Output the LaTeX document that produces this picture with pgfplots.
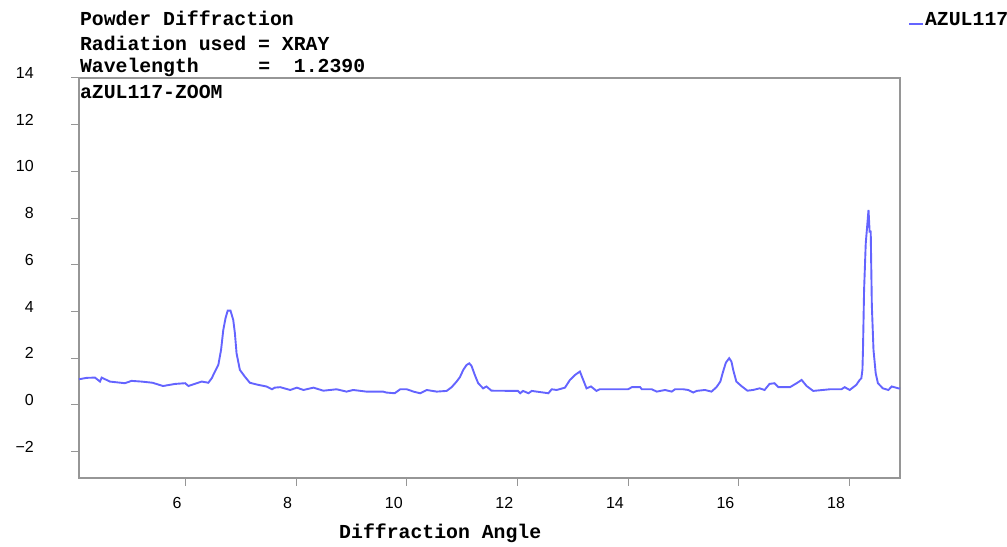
\documentclass[border=0pt]{standalone}
\usepackage{pgfplots}
\pgfplotsset{compat=1.18}
\usepackage{fontspec}
\setmainfont{Liberation Mono}
\newfontfamily\ticksf{Liberation Sans}
\definecolor{framegray}{RGB}{150,150,150}
\definecolor{xrdblue}{RGB}{100,100,255}

\pgfplotstableread{
x y
4.07 1.10
4.21 1.16
4.36 1.17
4.45 1.00
4.48 1.17
4.63 1.00
4.90 0.93
5.02 1.03
5.20 1.00
5.40 0.95
5.59 0.81
5.81 0.90
5.99 0.93
6.05 0.81
6.29 1.00
6.41 0.95
6.47 1.14
6.53 1.43
6.59 1.71
6.64 2.36
6.68 3.21
6.72 3.71
6.76 4.04
6.81 4.04
6.86 3.64
6.89 3.07
6.92 2.21
6.98 1.50
7.07 1.21
7.16 0.95
7.31 0.86
7.46 0.79
7.56 0.67
7.61 0.74
7.71 0.76
7.89 0.64
8.01 0.74
8.13 0.64
8.31 0.74
8.49 0.61
8.61 0.64
8.73 0.67
8.91 0.57
9.03 0.64
9.27 0.57
9.57 0.57
9.63 0.53
9.78 0.50
9.88 0.67
10.00 0.67
10.12 0.57
10.24 0.50
10.36 0.64
10.54 0.57
10.72 0.60
10.81 0.76
10.90 1.00
10.96 1.19
11.02 1.50
11.08 1.71
11.13 1.78
11.17 1.67
11.23 1.28
11.29 0.93
11.38 0.71
11.44 0.79
11.53 0.61
12.01 0.60
12.05 0.50
12.10 0.60
12.20 0.50
12.26 0.60
12.56 0.50
12.62 0.67
12.71 0.64
12.86 0.74
12.95 1.07
13.04 1.28
13.13 1.43
13.19 1.07
13.25 0.71
13.33 0.79
13.43 0.60
13.49 0.67
14.00 0.67
14.07 0.76
14.22 0.76
14.25 0.67
14.43 0.67
14.52 0.57
14.67 0.64
14.79 0.57
14.85 0.67
15.00 0.67
15.09 0.64
15.18 0.53
15.24 0.60
15.39 0.64
15.51 0.57
15.60 0.76
15.67 1.00
15.72 1.43
15.77 1.81
15.83 2.00
15.87 1.86
15.91 1.43
15.96 1.00
16.05 0.81
16.16 0.61
16.26 0.64
16.38 0.71
16.47 0.64
16.56 0.90
16.65 0.93
16.72 0.76
16.93 0.76
17.05 0.93
17.14 1.07
17.23 0.81
17.35 0.60
17.65 0.67
17.86 0.67
17.92 0.76
18.01 0.64
18.13 0.86
18.19 1.07
18.22 1.14
18.24 1.50
18.25 2.36
18.27 4.93
18.30 6.92
18.35 8.35
18.37 7.42
18.39 7.42
18.41 4.28
18.44 2.36
18.48 1.36
18.52 0.93
18.61 0.71
18.71 0.64
18.77 0.79
18.89 0.71
18.92 0.71
}\azul

\begin{document}
\begin{tikzpicture}
\begin{axis}[
    scale only axis,
    width=821pt, height=400pt,
    xmin=4.07, xmax=18.92,
    ymin=-3.13, ymax=14,
    clip mode=individual,
    xtick={6,8,...,18},
    ytick={-2,0,...,14},
    yticklabels={−2,0,2,4,6,8,10,12,14},
    xtick pos=bottom, ytick pos=left,
    tick align=outside,
    major tick length=7.5pt,
    axis line style={draw=framegray, line width=1.6pt},
    every tick/.style={draw=framegray, line width=1pt},
    /pgf/number format/assume math mode=true,
    ticklabel style={font=\ticksf\fontsize{16}{18}\selectfont, inner sep=0pt},
    xticklabel style={anchor=north east, xshift=-4pt, yshift=-11.5pt},
    yticklabel style={anchor=east, xshift=-37.5pt, yshift=5pt},
    legend style={at={(axis description cs:1.0097,1.145)}, anchor=west,
        draw=none, fill=none, inner sep=0pt,
        nodes={inner sep=1pt, font=\bfseries\fontsize{19.8}{22}\selectfont}},
    legend image code/.code={\draw[#1] (0pt,-4pt) -- (14pt,-4pt);},
]
\addplot[xrdblue, line width=1.9pt] table[x=x, y=y] {\azul};
\addlegendentry{AZUL117}

\node[anchor=west, inner sep=0pt, font=\bfseries\fontsize{19.8}{22}\selectfont]
    at (axis description cs:0.001,1.15) {Powder Diffraction};
\node[anchor=west, inner sep=0pt, font=\bfseries\fontsize{19.8}{22}\selectfont]
    at (axis description cs:0.001,1.0875) {Radiation used = XRAY};
\node[anchor=west, inner sep=0pt, font=\bfseries\fontsize{19.8}{22}\selectfont]
    at (axis description cs:0.001,1.0275) {Wavelength\ \ \ \ \ =\ \ 1.2390};
\node[anchor=west, inner sep=0pt, font=\bfseries\fontsize{19.8}{22}\selectfont]
    at (axis description cs:0.001,0.965) {aZUL117-ZOOM};
\node[inner sep=0pt, font=\bfseries\fontsize{19.8}{22}\selectfont]
    at (axis description cs:0.44,-0.1375) {Diffraction Angle};

\coordinate (bbl) at (axis description cs:-0.0962,-0.17);
\coordinate (btr) at (axis description cs:1.1303,1.195);
\end{axis}
\pgfresetboundingbox
\path[use as bounding box] (bbl) rectangle (btr);
\end{tikzpicture}
\end{document}
